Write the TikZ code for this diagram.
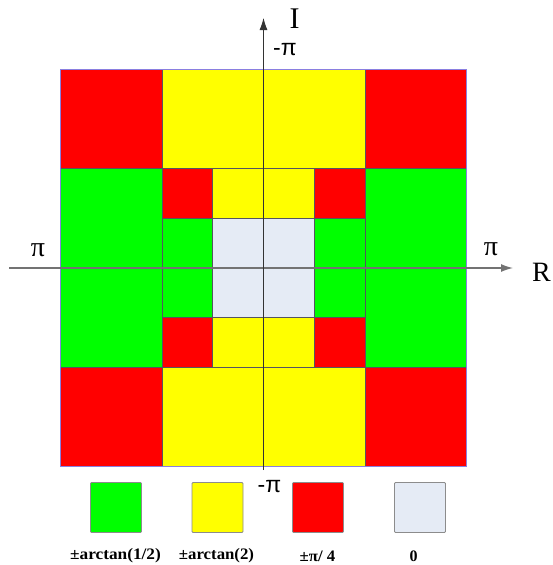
\documentclass[tikz,border=0pt]{standalone}
\usepackage{fontspec}
\setmainfont{Liberation Serif}
\newfontfamily\sansf{Liberation Sans}
\usetikzlibrary{arrows.meta}
\definecolor{cred}{HTML}{FF0000}
\definecolor{cyel}{HTML}{FFFF00}
\definecolor{cgrn}{HTML}{00FF00}
\definecolor{cgry}{HTML}{E5EBF5}
\definecolor{cedge}{HTML}{555560}
\definecolor{cviol}{HTML}{8A7FE0}
\tikzset{
  cell/.style={draw=cedge,line width=0.6pt},
  legbox/.style={draw=black!45,line width=0.9pt,rounded corners=1pt,minimum width=51pt,minimum height=50pt,inner sep=0pt},
  legtxt/.style={font=\bfseries\fontsize{16}{16}\selectfont,inner sep=0pt,anchor=center},
  axlab/.style={inner sep=0pt,anchor=center},
  axarrow/.style={-{Latex[length=12pt,width=8pt]}}
}
\begin{document}
\begin{tikzpicture}[x=1pt,y=-1pt]
\useasboundingbox (0,0) rectangle (553,565);
% outer cells
\fill[cred,cell] (60,69) rectangle (162,168.5);
\fill[cred,cell] (365,69) rectangle (466,168.5);
\fill[cred,cell] (60,367) rectangle (162,466);
\fill[cred,cell] (365,367) rectangle (466,466);
\fill[cyel,cell] (162,69) rectangle (365,168.5);
\fill[cyel,cell] (162,367) rectangle (365,466);
\fill[cgrn,cell] (60,168.5) rectangle (162,367);
\fill[cgrn,cell] (365,168.5) rectangle (466,367);
% inner cells
\fill[cred,cell] (162,168.5) rectangle (212.75,218.25);
\fill[cred,cell] (314.25,168.5) rectangle (365,218.25);
\fill[cred,cell] (162,317.5) rectangle (212.75,367);
\fill[cred,cell] (314.25,317.5) rectangle (365,367);
\fill[cyel,cell] (212.75,168.5) rectangle (314.25,218.25);
\fill[cyel,cell] (212.75,317.5) rectangle (314.25,367);
\fill[cgrn,cell] (162,218.25) rectangle (212.75,317.5);
\fill[cgrn,cell] (314.25,218.25) rectangle (365,317.5);
\fill[cgry,cell] (212.75,218.25) rectangle (314.25,317.5);
% outer border
\draw[cviol,line width=0.8pt] (60,69) rectangle (466,466);
% axes
\coordinate (hL) at (9,268);
\coordinate (hR) at (513,268);
\coordinate (vB) at (263.5,470);
\coordinate (vT) at (263.5,18);
\draw[axarrow,draw=black!55,line width=1.3pt] (hL) -- (hR);
\draw[axarrow,draw=black!80,line width=0.8pt] (vB) -- (vT);
% axis labels
\node[axlab,font=\fontsize{30}{30}\selectfont] (lI) at (294.5,19) {I};
\node[axlab,font=\fontsize{28}{28}\selectfont] (lR) at (541.5,272) {R};
\node[axlab,font=\sansf\fontsize{23}{23}\selectfont] (ltop) at (285,50) {-π};
\node[axlab,font=\sansf\fontsize{23}{23}\selectfont] (lbot) at (269.5,487) {-π};
\node[axlab,font=\fontsize{28}{28}\selectfont] (lleft) at (38,250) {π};
\node[axlab,font=\fontsize{28}{28}\selectfont] (lright) at (491,249) {π};
% legend
\node[legbox,fill=cgrn] (k1) at (116,507.5) {};
\node[legbox,fill=cyel] (k2) at (217.5,507.5) {};
\node[legbox,fill=cred] (k3) at (318,507.5) {};
\node[legbox,fill=cgry] (k4) at (420,507.5) {};
\node[legtxt] (t1) at (115.5,556) {\scalebox{1.08}[1]{±arctan(1/2)}};
\node[legtxt] (t2) at (216.5,556) {\scalebox{1.05}[1]{±arctan(2)}};
\node[legtxt] (t3) at (317.5,556) {\scalebox{1.05}[1]{±π/ 4}};
\node[legtxt] (t4) at (413.5,556) {0};
\end{tikzpicture}
\end{document}
